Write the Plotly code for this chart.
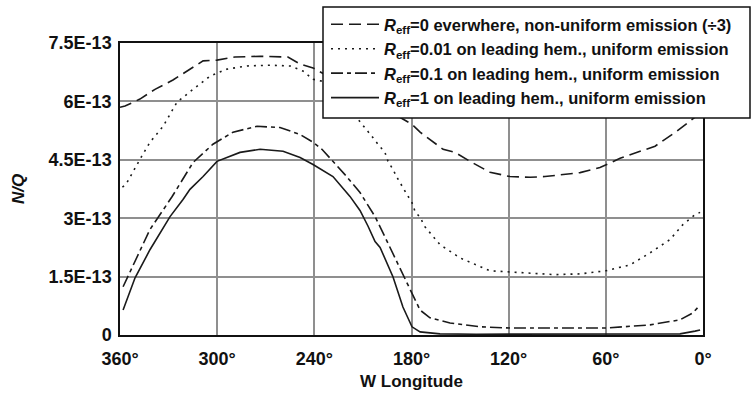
import plotly.graph_objects as go

# W longitude (deg) and N/Q values
lon_r0 = [360.0, 356.9, 347.7, 338.4, 327.3, 316.8, 308.7, 300.1, 289.0, 273.5, 256.3, 248.8, 240.8,
          230.3, 218.0, 205.6, 193.3, 182.8, 179.7, 174.7, 160.5, 153.1, 143.9, 131.5, 119.2, 106.8,
          97.6, 75.9, 63.6, 51.2, 37.0, 29.6, 16.0, 6.2, 0.0]
val_r0 = [5.85e-13, 5.88e-13, 6.06e-13, 6.31e-13, 6.55e-13, 6.83e-13, 7.04e-13, 7.06e-13, 7.14e-13,
          7.16e-13, 7.14e-13, 6.96e-13, 6.86e-13, 6.62e-13, 6.32e-13, 6.02e-13, 5.74e-13, 5.50e-13,
          5.41e-13, 5.21e-13, 4.77e-13, 4.69e-13, 4.46e-13, 4.18e-13, 4.07e-13, 4.05e-13, 4.07e-13,
          4.17e-13, 4.30e-13, 4.54e-13, 4.74e-13, 4.85e-13, 5.24e-13, 5.54e-13, 5.75e-13]

lon_r001 = [358.5, 356.3, 347.7, 341.5, 333.4, 324.8, 314.9, 304.4, 293.9, 281.6, 267.4, 255.0, 247.0,
            240.8, 235.3, 224.1, 213.0, 208.7, 204.4, 200.7, 196.4, 194.5, 191.4, 189.0, 185.9, 182.8,
            179.7, 177.8, 174.7, 171.7, 162.4, 150.0, 131.5, 109.9, 91.4, 75.9, 60.0, 45.1, 32.7,
            20.4, 12.3, 4.9, 1.8]
val_r001 = [3.80e-13, 3.87e-13, 4.51e-13, 4.95e-13, 5.36e-13, 5.98e-13, 6.31e-13, 6.65e-13, 6.83e-13,
            6.91e-13, 6.93e-13, 6.91e-13, 6.78e-13, 6.57e-13, 6.52e-13, 6.10e-13, 5.54e-13, 5.33e-13,
            5.10e-13, 4.90e-13, 4.69e-13, 4.46e-13, 4.25e-13, 4.05e-13, 3.81e-13, 3.61e-13, 3.40e-13,
            3.17e-13, 3.02e-13, 2.78e-13, 2.32e-13, 1.98e-13, 1.65e-13, 1.60e-13, 1.55e-13, 1.57e-13,
            1.65e-13, 1.80e-13, 2.11e-13, 2.45e-13, 2.84e-13, 3.09e-13, 3.15e-13]

lon_r01 = [358.1, 350.7, 341.5, 327.9, 314.9, 302.6, 290.2, 275.4, 261.2, 248.8, 240.8, 235.3, 228.5,
           221.1, 211.8, 205.6, 202.5, 199.4, 190.2, 182.8, 174.7, 168.6, 156.2, 137.7, 119.2, 88.3,
           60.0, 32.7, 14.2, 6.2, 1.8]
val_r01 = [1.24e-13, 1.88e-13, 2.71e-13, 3.55e-13, 4.43e-13, 4.90e-13, 5.21e-13, 5.36e-13, 5.33e-13,
           5.15e-13, 4.95e-13, 4.77e-13, 4.46e-13, 4.12e-13, 3.66e-13, 3.27e-13, 3.04e-13, 2.78e-13,
           2.00e-13, 1.34e-13, 0.64e-13, 0.44e-13, 0.31e-13, 0.21e-13, 0.18e-13, 0.18e-13, 0.18e-13,
           0.26e-13, 0.39e-13, 0.57e-13, 0.77e-13]

lon_r1 = [358.1, 350.7, 341.5, 329.1, 321.1, 316.8, 308.7, 300.1, 285.9, 273.5, 259.3, 248.8, 240.8,
          228.5, 218.0, 211.8, 206.9, 202.5, 199.4, 191.4, 185.3, 179.7, 174.7, 162.4, 140.0, 100.0,
          60.0, 14.2, 4.9, 1.8]
val_r1 = [0.64e-13, 1.47e-13, 2.19e-13, 3.04e-13, 3.48e-13, 3.74e-13, 4.07e-13, 4.46e-13, 4.69e-13,
          4.77e-13, 4.72e-13, 4.56e-13, 4.38e-13, 4.07e-13, 3.56e-13, 3.20e-13, 2.80e-13, 2.40e-13,
          2.25e-13, 1.49e-13, 0.72e-13, 0.21e-13, 0.08e-13, 0.03e-13, 0.02e-13, 0.02e-13, 0.02e-13,
          0.03e-13, 0.10e-13, 0.13e-13]

names = [
    "<i>R</i><sub>eff</sub>=0 everwhere, non-uniform emission (÷3)",
    "<i>R</i><sub>eff</sub>=0.01 on leading hem., uniform emission",
    "<i>R</i><sub>eff</sub>=0.1 on leading hem., uniform emission",
    "<i>R</i><sub>eff</sub>=1 on leading hem., uniform emission",
]

x_ticks = [360, 300, 240, 180, 120, 60, 0]
x_tick_text = ["360°", "300°", "240°", "180°", "120°", "60°", "0°"]
y_ticks = [0, 1.5e-13, 3e-13, 4.5e-13, 6e-13, 7.5e-13]
y_tick_text = ["0", "1.5E-13", "3E-13", "4.5E-13", "6E-13", "7.5E-13"]

FONT = "Arial, Liberation Sans, sans-serif"
LC = "#1a1a1a"

fig = go.Figure()
series = [
    (lon_r0, val_r0, "12px,6px"),
    (lon_r001, val_r001, "2px,5px"),
    (lon_r01, val_r01, "12px,4px,4px,4px"),
    (lon_r1, val_r1, "solid"),
]
for (xs, ys, dash), nm in zip(series, names):
    fig.add_trace(go.Scatter(x=xs, y=ys, mode="lines", name=nm,
                             line=dict(color=LC, width=1.6, dash=dash)))

# legend frame (px -> paper)
def px_x(p):
    return (p - 120) / 583.0

def px_y(p):
    return (335 - p) / 292.0

fig.add_shape(type="rect", xref="paper", yref="paper",
              x0=px_x(323), x1=px_x(750), y0=px_y(118), y1=px_y(7),
              line=dict(color="#111", width=1.5), fillcolor="white", layer="above")

fig.update_layout(
    width=752, height=396,
    margin=dict(l=120, r=49, t=43, b=61, autoexpand=False),
    paper_bgcolor="white", plot_bgcolor="white",
    font=dict(family=FONT, size=16, color="#111"),
    showlegend=True,
    legend=dict(x=px_x(326), y=px_y(7), xanchor="left", yanchor="top",
                bgcolor="rgba(0,0,0,0)", borderwidth=0,
                font=dict(family=FONT, size=16.5, color="#111", weight="bold"),
                itemwidth=48, tracegroupgap=0),
    xaxis=dict(range=[360, 0], tickvals=x_ticks, ticktext=x_tick_text,
               showgrid=True, gridcolor="#8f8f8f", gridwidth=1.5,
               showline=True, linecolor="#111", linewidth=2, mirror=True,
               ticks="", zeroline=False, ticklabelstandoff=6, automargin=False,
               tickfont=dict(family=FONT, size=18, weight="bold"),
               title=dict(text="W Longitude", font=dict(family=FONT, size=17, weight="bold"),
                          standoff=8)),
    yaxis=dict(range=[0, 7.5e-13], tickvals=y_ticks, ticktext=y_tick_text,
               showgrid=True, gridcolor="#8f8f8f", gridwidth=1.5,
               showline=True, linecolor="#111", linewidth=1.5, mirror=True,
               ticks="", zeroline=False, ticklabelstandoff=3, automargin=False,
               tickfont=dict(family=FONT, size=18, weight="bold"),
               title=dict(text="<i>N/Q</i>", font=dict(family=FONT, size=17, weight="bold"),
                          standoff=20)),
)

fig.write_html("out.html")
